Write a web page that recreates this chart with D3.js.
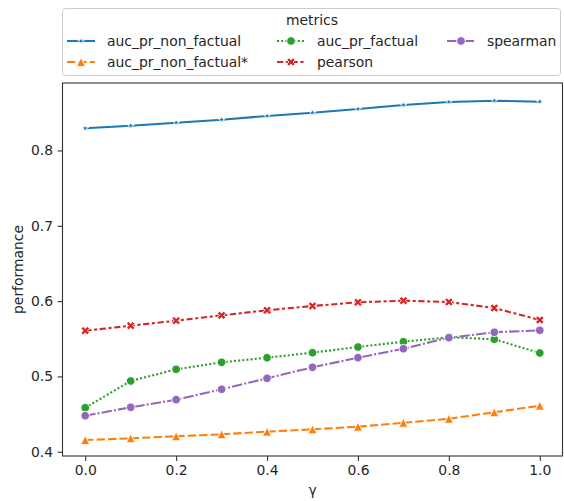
<!DOCTYPE html>
<html><head><meta charset="utf-8">
<script src="https://cdn.jsdelivr.net/npm/d3@7"></script>
<style>body{margin:0;background:#fff}svg{display:block}text{font-family:"DejaVu Sans",sans-serif;fill:#262626}</style>
</head><body><svg id="c" width="564" height="501"></svg>
<script>
const gamma = [0.0,0.1,0.2,0.3,0.4,0.5,0.6,0.7,0.8,0.9,1.0];
const aucNonFactual = [0.8295,0.8329,0.8369,0.8409,0.8458,0.8502,0.8551,0.8604,0.8644,0.8661,0.8648];
const aucNonFactualStar = [0.4155,0.4178,0.4205,0.4231,0.4266,0.4297,0.4332,0.4385,0.4438,0.4523,0.4611];
const aucFactual = [0.4584,0.4939,0.5094,0.5187,0.5248,0.5315,0.5390,0.5461,0.5519,0.5493,0.5311];
const pearson = [0.5607,0.5673,0.5740,0.5811,0.5878,0.5935,0.5984,0.6005,0.5988,0.5908,0.5749];
const spearman = [0.4478,0.4590,0.4691,0.4829,0.4975,0.5121,0.5248,0.5368,0.5514,0.5586,0.5612];
const xTicks = [0.0,0.2,0.4,0.6,0.8,1.0];
const yTicks = [0.4,0.5,0.6,0.7,0.8];
const seriesNames = ["auc_pr_non_factual","auc_pr_non_factual*","auc_pr_factual","pearson","spearman"];

const triUp = {draw(ctx, size){const r=Math.sqrt(size)/2; ctx.moveTo(0,-r); ctx.lineTo(r,r); ctx.lineTo(-r,r); ctx.closePath();}};
const xFilled = {draw(ctx, size){const s=Math.sqrt(size)/2, w=s/3;
  const pts=[[-w,-s],[w,-s],[w,-w],[s,-w],[s,w],[w,w],[w,s],[-w,s],[-w,w],[-s,w],[-s,-w],[-w,-w]];
  const a=Math.PI/4, c=Math.cos(a), sn=Math.sin(a);
  pts.forEach((p,i)=>{const x=p[0]*c-p[1]*sn, y=p[0]*sn+p[1]*c; i?ctx.lineTo(x,y):ctx.moveTo(x,y);}); ctx.closePath();}};

const series = [
  {name:seriesNames[0], values:aucNonFactual, color:"#1f77b4", dash:null, sym:d3.symbolStar, size:16},
  {name:seriesNames[1], values:aucNonFactualStar, color:"#ff7f0e", dash:"8.3,3.1", sym:triUp, size:80},
  {name:seriesNames[2], values:aucFactual, color:"#2ca02c", dash:"2.08,2.08", sym:d3.symbolCircle, size:58},
  {name:seriesNames[3], values:pearson, color:"#d62728", dash:"6.25,2.6,3.1,2.6", sym:xFilled, size:80},
  {name:seriesNames[4], values:spearman, color:"#9467bd", dash:"10.4,2.08,2.08,2.08", sym:d3.symbolCircle, size:58}
];

const svg = d3.select("#c");
const L=62.5, R=562.5, T=83, B=456;
const x = d3.scaleLinear().domain([-0.05,1.05]).range([L,R]);
const y = d3.scaleLinear().domain([0.3943,0.8896]).range([B,T]);

// axes
const gx = svg.append("g").attr("transform",`translate(0,${B})`)
  .call(d3.axisBottom(x).tickValues(xTicks).tickFormat(d3.format(".1f")).tickSize(4.9).tickPadding(4.5));
const gy = svg.append("g").attr("transform",`translate(${L},0)`)
  .call(d3.axisLeft(y).tickValues(yTicks).tickFormat(d3.format(".1f")).tickSize(4.9).tickPadding(4.5));
[gx,gy].forEach(g=>{g.select(".domain").remove(); g.selectAll("line").attr("stroke","#333").attr("stroke-width",1.1);
  g.selectAll("text").style("font-family","DejaVu Sans").style("font-size","13.9px").attr("fill","#262626");});

const clipG = svg.append("g");
const line = d3.line().x((d,i)=>x(gamma[i])).y(d=>y(d));
series.forEach(s=>{
  clipG.append("path").attr("d",line(s.values)).attr("fill","none").attr("stroke",s.color)
    .attr("stroke-width",2.08).attr("stroke-dasharray",s.dash).attr("stroke-linecap","butt");
  clipG.selectAll(null).data(s.values).enter().append("path")
    .attr("transform",(d,i)=>`translate(${x(gamma[i])},${y(d)})`)
    .attr("d",d3.symbol().type(s.sym).size(s.size)).attr("fill",s.color).attr("stroke","#fff").attr("stroke-width",0.9);
});

// frame
svg.append("rect").attr("x",L).attr("y",T).attr("width",R-L).attr("height",B-T)
  .attr("fill","none").attr("stroke","#333").attr("stroke-width",1.1);

// axis labels
svg.append("text").attr("x",(L+R)/2).attr("y",495).attr("text-anchor","middle").style("font-size","13.9px").text("γ");
svg.append("text").attr("transform",`translate(23,${(T+B)/2}) rotate(-90)`).attr("text-anchor","middle").style("font-size","13.9px").text("performance");

// legend
const lg = svg.append("g");
lg.append("rect").attr("x",62.5).attr("y",8.5).attr("width",498).attr("height",67).attr("rx",3)
  .attr("fill","#fff").attr("fill-opacity",0.8).attr("stroke","#ccc").attr("stroke-width",1);
lg.append("text").attr("x",312).attr("y",25).attr("text-anchor","middle").style("font-size","13.9px").text("metrics");
const colX = [67,277,447];
const rowY = [41,62];
series.forEach((s,i)=>{
  const col = Math.floor(i/2), row = i%2;
  const hx = colX[col], hy = rowY[row];
  lg.append("line").attr("x1",hx).attr("x2",hx+28).attr("y1",hy).attr("y2",hy).attr("stroke",s.color)
    .attr("stroke-width",2.08).attr("stroke-dasharray",s.dash);
  lg.append("path").attr("transform",`translate(${hx+14},${hy})`).attr("d",d3.symbol().type(s.sym).size(s.size))
    .attr("fill",s.color).attr("stroke","#fff").attr("stroke-width",0.9);
  lg.append("text").attr("x",hx+40).attr("y",hy).attr("dy","0.35em").style("font-size","13.9px").text(s.name);
});
</script></body></html>
